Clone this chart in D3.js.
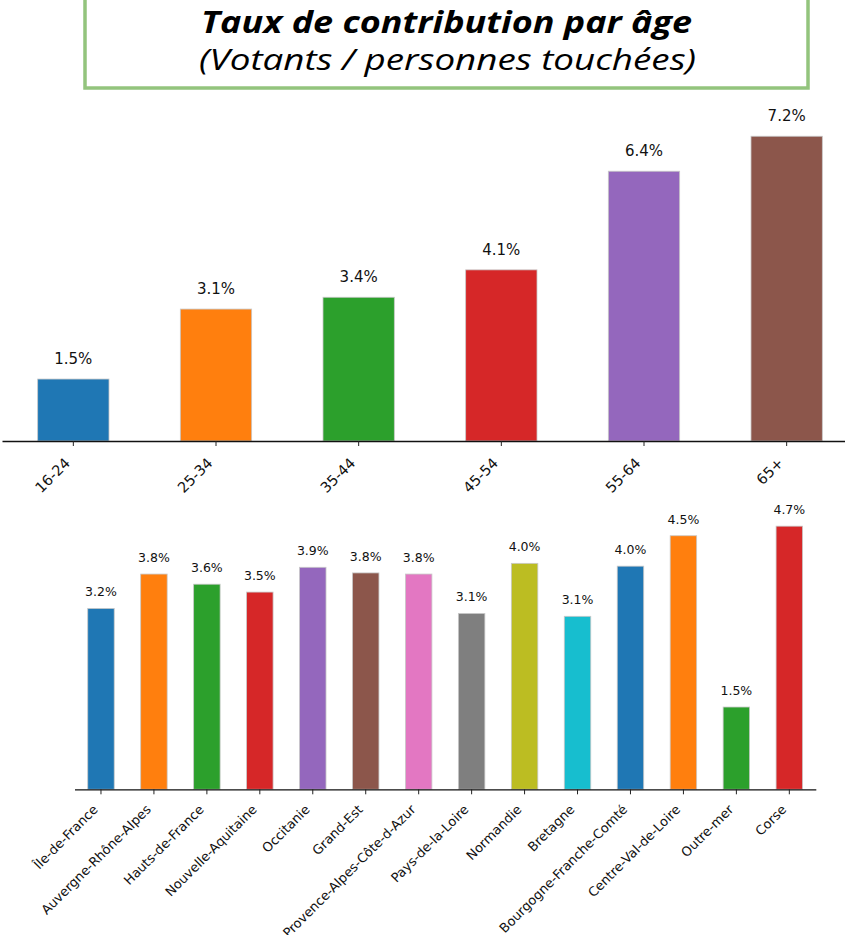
<!DOCTYPE html>
<html>
<head>
<meta charset="utf-8">
<script src="https://cdn.jsdelivr.net/npm/d3@7"></script>
<style>
  body { margin: 0; background: #fff; }
  svg { display: block; }
</style>
</head>
<body>
<div id="chart"></div>
<script>
var width = 845;
var height = 935;

// taux par tranche d'age
var ages = ["16-24", "25-34", "35-44", "45-54", "55-64", "65+"];
var ageRates = [1.47, 3.13, 3.41, 4.06, 6.40, 7.23];

// taux par region
var regions = ["Île-de-France", "Auvergne-Rhône-Alpes", "Hauts-de-France", "Nouvelle-Aquitaine",
  "Occitanie", "Grand-Est", "Provence-Alpes-Côte-d-Azur", "Pays-de-la-Loire", "Normandie",
  "Bretagne", "Bourgogne-Franche-Comté", "Centre-Val-de-Loire", "Outre-mer", "Corse"];
var regionRates = [3.21, 3.82, 3.64, 3.50, 3.94, 3.84, 3.82, 3.12, 4.01, 3.07, 3.96, 4.50, 1.46, 4.67];

var palette = ["#1f77b4", "#ff7f0e", "#2ca02c", "#d62728", "#9467bd",
  "#8c564b", "#e377c2", "#7f7f7f", "#bcbd22", "#17becf"];

var titleText = "Taux de contribution par âge";
var subtitleText = "(Votants / personnes touchées)";

var fmt = d3.format(".1f");

var svg = d3.select("#chart")
  .append("svg")
  .attr("width", width)
  .attr("height", height);

svg.append("rect").attr("width", width).attr("height", height).attr("fill", "#fff");

// cadre du titre
svg.append("rect")
  .attr("x", 85)
  .attr("y", -10)
  .attr("width", 723)
  .attr("height", 98)
  .attr("fill", "none")
  .attr("stroke", "#93c47d")
  .attr("stroke-width", 3.5);

svg.append("text")
  .attr("x", 201)
  .attr("y", 33)
  .attr("textLength", 491)
  .attr("lengthAdjust", "spacingAndGlyphs")
  .style("font-family", "'Open Sans', sans-serif")
  .style("font-weight", "bold")
  .style("font-style", "italic")
  .style("font-size", "30px")
  .attr("fill", "#000")
  .text(titleText);

svg.append("text")
  .attr("x", 199)
  .attr("y", 70)
  .attr("textLength", 497)
  .attr("lengthAdjust", "spacingAndGlyphs")
  .style("font-family", "'Open Sans', sans-serif")
  .style("font-style", "italic")
  .style("font-size", "30px")
  .attr("fill", "#000")
  .text(subtitleText);

function drawBars(cfg) {
  var g = svg.append("g");

  var x = d3.scaleBand()
    .domain(cfg.cats)
    .range(cfg.xRange)
    .paddingInner(0.5)
    .paddingOuter(0.25);

  var y = d3.scaleLinear()
    .domain([0, d3.max(cfg.vals) * 1.05])
    .range(cfg.yRange);

  var data = cfg.cats.map(function(c, i) { return { cat: c, val: cfg.vals[i], i: i }; });

  g.selectAll("rect.bar")
    .data(data)
    .enter()
    .append("rect")
    .attr("class", "bar")
    .attr("x", function(d) { return x(d.cat); })
    .attr("y", function(d) { return y(d.val); })
    .attr("width", x.bandwidth())
    .attr("height", function(d) { return y(0) - y(d.val); })
    .attr("fill", function(d) { return palette[d.i % palette.length]; })
    .attr("stroke", "#c8c8c8")
    .attr("stroke-width", 0.8);

  g.selectAll("text.val")
    .data(data)
    .enter()
    .append("text")
    .attr("class", "val")
    .attr("x", function(d) { return x(d.cat) + x.bandwidth() / 2; })
    .attr("y", function(d) { return y(d.val) - cfg.labelGap; })
    .attr("text-anchor", "middle")
    .style("font-family", "'DejaVu Sans', sans-serif")
    .style("font-size", cfg.labelSize + "px")
    .attr("fill", "#111")
    .text(function(d) { return fmt(d.val) + "%"; });

  var axis = g.append("g")
    .attr("transform", "translate(0," + y(0) + ")")
    .call(d3.axisBottom(x).tickSize(5).tickSizeOuter(0).tickPadding(0));

  axis.select(".domain").attr("stroke", "#111").attr("stroke-width", 1.3);
  axis.selectAll(".tick line").attr("stroke", "#222").attr("stroke-width", 1);
  axis.selectAll(".tick text")
    .attr("text-anchor", "end")
    .attr("y", null)
    .attr("dy", null)
    .attr("transform", "translate(" + cfg.tickDx + "," + cfg.tickDy + ") rotate(-45)")
    .style("font-family", "'DejaVu Sans', sans-serif")
    .style("font-size", cfg.tickSize + "px")
    .attr("fill", "#111");
}

drawBars({
  cats: ages,
  vals: ageRates,
  xRange: [2, 858],
  yRange: [441, 121],
  labelGap: 15,
  labelSize: 15,
  tickSize: 14.5,
  tickDx: -2.4,
  tickDy: 23
});

drawBars({
  cats: regions,
  vals: regionRates,
  xRange: [74.5, 815.8],
  yRange: [789.3, 513],
  labelGap: 12,
  labelSize: 12.5,
  tickSize: 13,
  tickDx: -2.2,
  tickDy: 21
});
</script>
</body>
</html>
